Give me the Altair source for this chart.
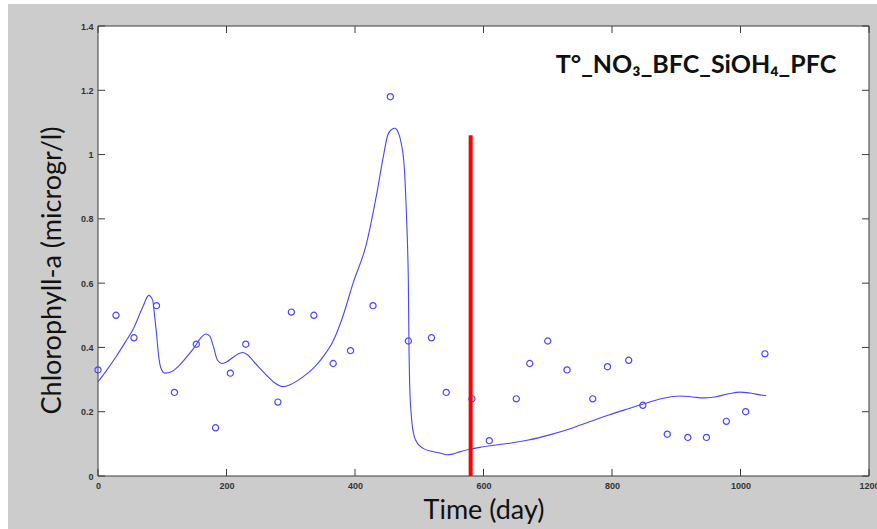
import altair as alt
import pandas as pd

# observed chlorophyll-a (circles)
obs_day = [0, 28, 56, 91, 119, 153, 183, 206, 230, 280, 301, 336, 366, 393, 428, 455,
           483, 519, 542, 582, 609, 651, 672, 700, 730, 770, 793, 826, 848, 886, 918,
           947, 978, 1008, 1038]
obs_val = [0.33, 0.50, 0.43, 0.53, 0.26, 0.41, 0.15, 0.32, 0.41, 0.23, 0.51, 0.50, 0.35,
           0.39, 0.53, 1.18, 0.42, 0.43, 0.26, 0.24, 0.11, 0.24, 0.35, 0.42, 0.33, 0.24,
           0.34, 0.36, 0.22, 0.13, 0.12, 0.12, 0.17, 0.20, 0.38]

# simulated chlorophyll-a (line)
sim_day = [0, 14, 28, 42, 54, 70, 79, 85, 88, 91, 94, 98, 104, 115, 127, 140, 150, 160,
           168, 174, 180, 186, 193, 200, 212, 225, 232, 245, 260, 275, 288, 300, 320,
           335, 350, 366, 380, 397, 418, 433, 444, 451, 457, 462, 467, 472, 477, 480,
           482, 483, 484, 485, 488, 492, 498, 506, 521, 535, 542, 552, 563, 578, 594,
           610, 641, 670, 703, 735, 765, 795, 828, 855, 880, 906, 925, 942, 960, 980,
           999, 1015, 1035, 1040]
sim_val = [0.293, 0.33, 0.371, 0.415, 0.454, 0.527, 0.562, 0.548, 0.50, 0.445, 0.38,
           0.335, 0.32, 0.325, 0.345, 0.375, 0.40, 0.43, 0.442, 0.435, 0.40, 0.36, 0.35,
           0.355, 0.372, 0.384, 0.378, 0.35, 0.318, 0.29, 0.278, 0.285, 0.31, 0.335,
           0.37, 0.42, 0.49, 0.60, 0.724, 0.869, 0.993, 1.061, 1.078, 1.082, 1.07, 1.035,
           0.952, 0.817, 0.70, 0.61, 0.40, 0.29, 0.18, 0.125, 0.10, 0.086, 0.076, 0.07,
           0.066, 0.068, 0.075, 0.083, 0.089, 0.094, 0.102, 0.112, 0.128, 0.147, 0.169,
           0.19, 0.211, 0.228, 0.242, 0.249, 0.246, 0.243, 0.246, 0.255, 0.261, 0.258,
           0.251, 0.25]

# calibration / validation split marker
split_day = [580]
split_top = [1.06]

x_ticks = [0, 200, 400, 600, 800, 1000, 1200]
y_ticks = [0, 0.2, 0.4, 0.6, 0.8, 1.0, 1.2, 1.4]

label_text = "T°_NO₃_BFC_SiOH₄_PFC"

W, H = 771, 450
BLUE = "#4646ff"

obs = pd.DataFrame({"day": obs_day, "chl": obs_val})
sim = pd.DataFrame({"day": sim_day, "chl": sim_val})
split = pd.DataFrame({"day": split_day, "top": split_top, "bottom": [0] * len(split_day)})
xt = pd.DataFrame({"day": x_ticks})
yt = pd.DataFrame({"chl": y_ticks})
one = pd.DataFrame({"a": [0]})

xs = alt.Scale(domain=[0, 1200], nice=False, zero=False)
ys = alt.Scale(domain=[0, 1.4], nice=False, zero=False)

x_axis = alt.Axis(values=x_ticks, format="d", grid=False, domain=False, ticks=False,
                  labelPadding=5, labelFont="Liberation Sans", labelFontSize=9,
                  labelColor="#333333", labelFontWeight="bold", title="Time (day)",
                  titleFont="Lato", titleFontSize=27, titleFontWeight="normal",
                  titleColor="#111111", titleBaseline="alphabetic", titleY=42,
                  labelFlush=False, labelOverlap=False, zindex=2)
y_axis = alt.Axis(values=y_ticks, format="~g", grid=False, domain=False, ticks=False,
                  labelPadding=5, labelFont="Liberation Sans", labelFontSize=9,
                  labelColor="#333333", labelFontWeight="bold",
                  title="Chlorophyll-a (microgr/l)", titleFont="Lato", titleFontSize=27,
                  titleFontWeight="normal", titleColor="#111111", titleBaseline="alphabetic",
                  titleAlign="center", titleX=-38, titleY=244, labelFlush=False,
                  labelOverlap=False, zindex=2)

gray_bg = alt.Chart(one).mark_rect(color="#cccccc").encode(
    x=alt.value(8 - 98), x2=alt.value(877 - 98), y=alt.value(4 - 26), y2=alt.value(529 - 26))

plot_bg = alt.Chart(one).mark_rect(fill="white", stroke="#3c3c3c", strokeWidth=1).encode(
    x=alt.value(0), x2=alt.value(W), y=alt.value(0), y2=alt.value(H))

line = alt.Chart(sim).mark_line(color=BLUE, strokeWidth=1.1, interpolate="monotone").encode(
    x=alt.X("day:Q", scale=xs, axis=x_axis),
    y=alt.Y("chl:Q", scale=ys, axis=y_axis))

points = alt.Chart(obs).mark_point(shape="circle", filled=False, color=BLUE, size=38,
                                   strokeWidth=1.2, opacity=1).encode(
    x=alt.X("day:Q", scale=xs), y=alt.Y("chl:Q", scale=ys))

red = alt.Chart(split).mark_rule(color="#ff0000", strokeWidth=4).encode(
    x=alt.X("day:Q", scale=xs), y=alt.Y("bottom:Q", scale=ys), y2="top:Q")

tick_style = dict(color="#3c3c3c", strokeWidth=1)
xb = alt.Chart(xt).mark_rule(**tick_style).encode(
    x=alt.X("day:Q", scale=xs), y=alt.value(H), y2=alt.value(H - 7))
xtop = alt.Chart(xt).mark_rule(**tick_style).encode(
    x=alt.X("day:Q", scale=xs), y=alt.value(0), y2=alt.value(7))
yl = alt.Chart(yt).mark_rule(**tick_style).encode(
    y=alt.Y("chl:Q", scale=ys), x=alt.value(0), x2=alt.value(7))
yr = alt.Chart(yt).mark_rule(**tick_style).encode(
    y=alt.Y("chl:Q", scale=ys), x=alt.value(W), x2=alt.value(W - 7))

label = alt.Chart(pd.DataFrame({"t": [label_text]})).mark_text(
    font="Lato", fontSize=25, fontWeight="bold", color="#111111", align="center",
    baseline="alphabetic").encode(text="t:N", x=alt.value(598), y=alt.value(47))

chart = alt.layer(gray_bg, plot_bg, line, points, red, xb, xtop, yl, yr, label).properties(
    width=W, height=H,
    autosize=alt.AutoSizeParams(type="none"),
    padding={"left": 98, "top": 26, "right": 8, "bottom": 53},
    background="white",
).configure_view(stroke=None)

chart.save("out.html", embed_options={"renderer": "svg", "actions": False})
